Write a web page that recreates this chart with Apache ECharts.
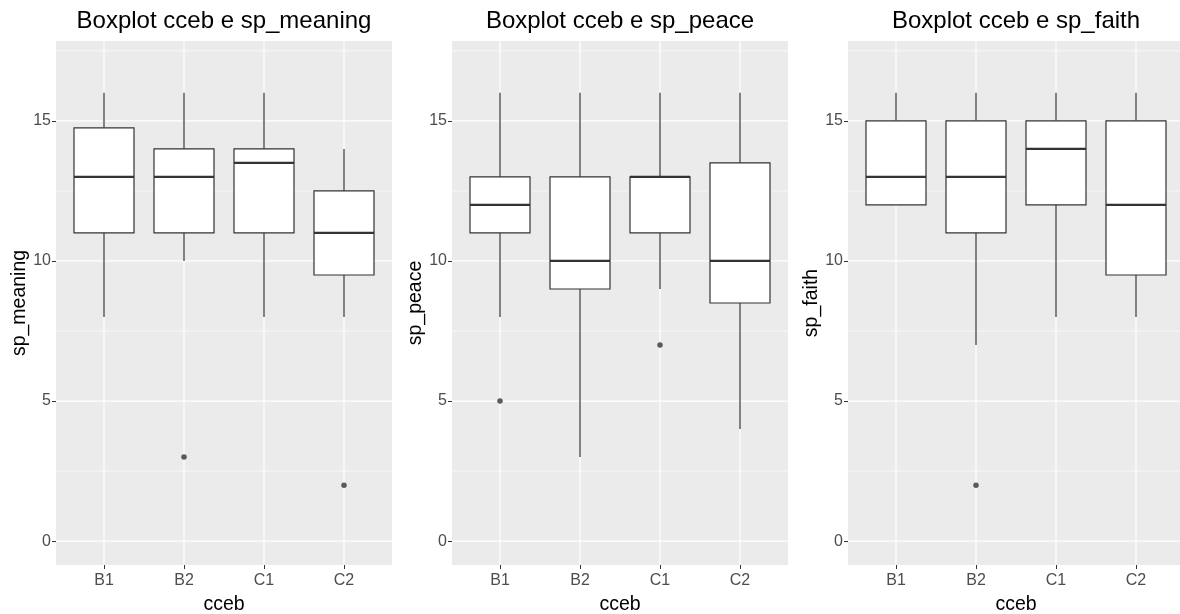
<!DOCTYPE html>
<html><head><meta charset="utf-8">
<script src="https://cdn.jsdelivr.net/npm/echarts@6/dist/echarts.min.js"></script>
<style>html,body{margin:0;padding:0;background:#fff}#c{width:1180px;height:614px}</style>
</head><body><div id="c"></div>
<script>
const categories = ['B1', 'B2', 'C1', 'C2'];
const panelTitles = ['Boxplot cceb e sp_meaning', 'Boxplot cceb e sp_peace', 'Boxplot cceb e sp_faith'];
const yNames = ['sp_meaning', 'sp_peace', 'sp_faith'];
const xName = 'cceb';
// per category: [lower whisker, Q1, median, Q3, upper whisker]
const meaningStats = [[8, 11, 13, 14.75, 16], [10, 11, 13, 14, 16], [8, 11, 13.5, 14, 16], [8, 9.5, 11, 12.5, 14]];
const meaningOutliers = [['B2', 3], ['C2', 2]];
const peaceStats = [[8, 11, 12, 13, 16], [3, 9, 10, 13, 16], [9, 11, 13, 13, 16], [4, 8.5, 10, 13.5, 16]];
const peaceOutliers = [['B1', 5], ['C1', 7]];
const faithStats = [[12, 12, 13, 15, 16], [7, 11, 13, 15, 16], [8, 12, 14, 15, 16], [8, 9.5, 12, 15, 16]];
const faithOutliers = [['B2', 2]];
const yMajorBreaks = [0, 5, 10, 15];
const yMinorBreaks = [2.5, 7.5, 12.5, 17.5];
const yLimits = [0, 17];

const FONT = '"Liberation Sans", Arial, sans-serif';
const panels = [
  { stats: meaningStats, outliers: meaningOutliers },
  { stats: peaceStats, outliers: peaceOutliers },
  { stats: faithStats, outliers: faithOutliers }
];
const catPos = categories.map((c, i) => i + 1);
const yExp = (yLimits[1] - yLimits[0]) * 0.05;
const xExp = 0.6;

const gridLefts = [56, 452, 848];
const gridW = 336, gridTop = 41, gridH = 524;

function gridRender(params, api) {
  const cs = params.coordSys;
  const ori = api.value(0), v = api.value(1), major = api.value(2);
  let shape;
  if (ori === 0) {
    const y = api.coord([1, v])[1];
    shape = { x1: cs.x, y1: y, x2: cs.x + cs.width, y2: y };
  } else {
    const x = api.coord([v, 0])[0];
    shape = { x1: x, y1: cs.y, x2: x, y2: cs.y + cs.height };
  }
  return { type: 'line', shape, style: { stroke: '#ffffff', lineWidth: major ? 1.2 : 0.6 } };
}

function boxRender(params, api) {
  const x = api.value(0);
  const v = [1, 2, 3, 4, 5].map(i => api.value(i));
  const half = api.size([0.75, 0])[0] / 2;
  const p = v.map(val => api.coord([x, val]));
  const cx = p[0][0];
  const st = { stroke: '#333333', lineWidth: 1.2 };
  return {
    type: 'group', children: [
      { type: 'line', shape: { x1: cx, y1: p[0][1], x2: cx, y2: p[1][1] }, style: st },
      { type: 'line', shape: { x1: cx, y1: p[3][1], x2: cx, y2: p[4][1] }, style: st },
      { type: 'rect', shape: { x: cx - half, y: p[3][1], width: 2 * half, height: p[1][1] - p[3][1] }, style: { fill: '#ffffff', stroke: '#333333', lineWidth: 1.2 } },
      { type: 'line', shape: { x1: cx - half, y1: p[2][1], x2: cx + half, y2: p[2][1] }, style: { stroke: '#333333', lineWidth: 2.3 } }
    ]
  };
}

const gridData = [];
yMajorBreaks.forEach(v => gridData.push([0, v, 1]));
yMinorBreaks.forEach(v => gridData.push([0, v, 0]));
catPos.forEach(v => gridData.push([1, v, 1]));

const option = { animation: false, title: [], grid: [], xAxis: [], yAxis: [], series: [] };
panels.forEach((pn, i) => {
  const cx = gridLefts[i] + gridW / 2;
  option.title.push({
    text: panelTitles[i], left: cx, top: 9, textAlign: 'center', padding: 0,
    textStyle: { fontSize: 24, fontWeight: 'normal', color: '#000', fontFamily: FONT }
  });
  option.grid.push({
    left: gridLefts[i], top: gridTop, width: gridW, height: gridH,
    show: true, backgroundColor: '#EBEBEB', borderWidth: 0, containLabel: false,
    outerBoundsMode: 'none'
  });
  option.xAxis.push({
    gridIndex: i, type: 'value', min: 1 - xExp, max: categories.length + xExp, position: 'bottom',
    axisLine: { show: false, onZero: false }, splitLine: { show: false },
    axisTick: { show: true, customValues: catPos, length: 4, lineStyle: { color: '#333333', width: 1 } },
    axisLabel: { customValues: catPos, formatter: v => categories[Math.round(v) - 1], color: '#4D4D4D', fontSize: 16, margin: 8, fontFamily: FONT },
    name: xName, nameLocation: 'middle', nameGap: 30,
    nameTextStyle: { fontSize: 19.5, color: '#000', fontFamily: FONT }
  });
  option.yAxis.push({
    gridIndex: i, type: 'value', min: yLimits[0] - yExp, max: yLimits[1] + yExp, position: 'left',
    axisLine: { show: false, onZero: false }, splitLine: { show: false },
    axisTick: { show: true, customValues: yMajorBreaks, length: 4, lineStyle: { color: '#333333', width: 1 } },
    axisLabel: { customValues: yMajorBreaks, color: '#4D4D4D', fontSize: 16, margin: 5, fontFamily: FONT },
    name: yNames[i], nameLocation: 'middle', nameRotate: 90, nameGap: 26,
    nameTextStyle: { fontSize: 19.5, color: '#000', fontFamily: FONT }
  });
  option.series.push({
    type: 'custom', xAxisIndex: i, yAxisIndex: i, z: 1, silent: true,
    renderItem: gridRender, data: gridData, clip: false
  });
  option.series.push({
    type: 'custom', xAxisIndex: i, yAxisIndex: i, z: 3, silent: true,
    renderItem: boxRender,
    data: pn.stats.map((s, k) => [catPos[k]].concat(s))
  });
  option.series.push({
    type: 'scatter', xAxisIndex: i, yAxisIndex: i, z: 4, silent: true,
    symbol: 'circle', symbolSize: 5.5,
    itemStyle: { color: '#333333' },
    data: pn.outliers.map(o => [categories.indexOf(o[0]) + 1, o[1]])
  });
});

const chart = echarts.init(document.getElementById('c'), null, { renderer: 'canvas' });
chart.setOption(option);
</script>
</body></html>
